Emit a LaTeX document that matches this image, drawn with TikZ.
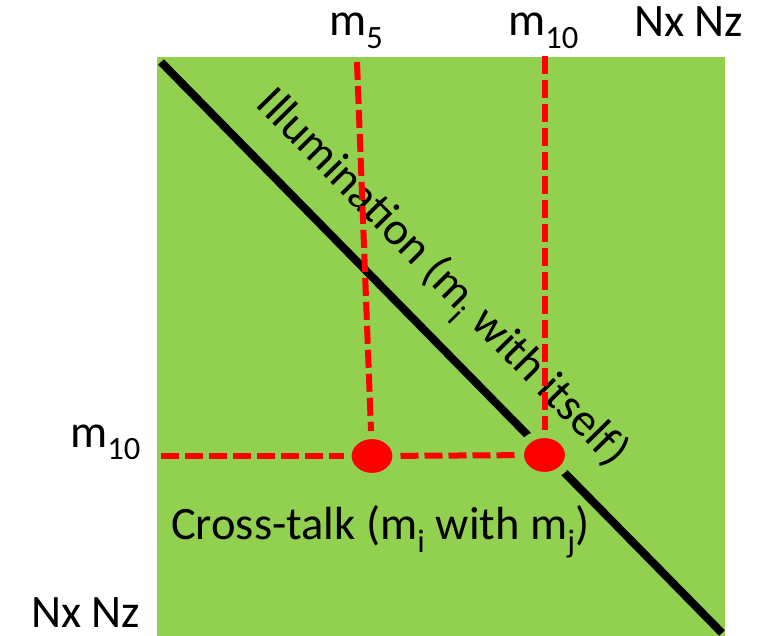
\documentclass[tikz,border=0pt]{standalone}
\usepackage{fontspec}
\setmainfont{Carlito}
\usetikzlibrary{shapes.geometric,positioning}
\definecolor{leafgreen}{HTML}{92D050}

\begin{document}
\begin{tikzpicture}[x=1pt, y=-1pt]
  \tikzstyle{lbl} = [inner sep=0pt, font=\fontsize{46.5}{52}\selectfont]
  \tikzstyle{dashline} = [draw=red, line width=6pt, dash pattern=on 18pt off 6pt]
  \tikzstyle{diagline} = [draw=black, line width=8pt]
  \tikzstyle{spot} = [ellipse, fill=red, draw=leafgreen, line width=8pt, inner sep=0pt,
                      minimum width=49pt, minimum height=42pt]
  \useasboundingbox (0,0) rectangle (774,636);
  \fill[leafgreen] (157,57) rectangle (725,636);
  % diagonal and its label
  \coordinate (diagstart) at (161,62);
  \coordinate (diagend) at (722,633);
  \draw[diagline] (diagstart) -- (diagend);
  \node[lbl, anchor=base, rotate=-45.5] (illum) at (433,287) {Illumination (m\textsubscript{i} with itself)};
  \node[lbl, anchor=base west] (crosstalk) at (171,539) {Cross-talk (m\textsubscript{i} with m\textsubscript{j})};
  % axis labels
  \node[lbl, anchor=base west] (mfive) at (329,36) {m\textsubscript{5}};
  \node[lbl, anchor=base west] (mten) at (508,36) {m\textsubscript{10}};
  \node[lbl, anchor=base west] (nxnztop) at (634,37) {Nx Nz};
  \node[lbl, anchor=base west] (mtenleft) at (70,447) {m\textsubscript{10}};
  \node[lbl, anchor=base west] (nxnzleft) at (31,627) {Nx Nz};
  % spots
  \node[spot] (crossdot) at (372,456) {};
  \node[spot] (selfdot) at (544.5,455) {};
  \coordinate (mfivefoot) at (357,62);
  \coordinate (mtenfoot) at (544.5,56);
  \coordinate (rowfoot) at (161,456);
  \draw[dashline] (mfivefoot) -- (crossdot);
  \draw[dashline] (mtenfoot) -- (selfdot);
  \draw[dashline] (rowfoot) -- (crossdot);
  \draw[dashline] (crossdot) -- (selfdot);
\end{tikzpicture}
\end{document}
